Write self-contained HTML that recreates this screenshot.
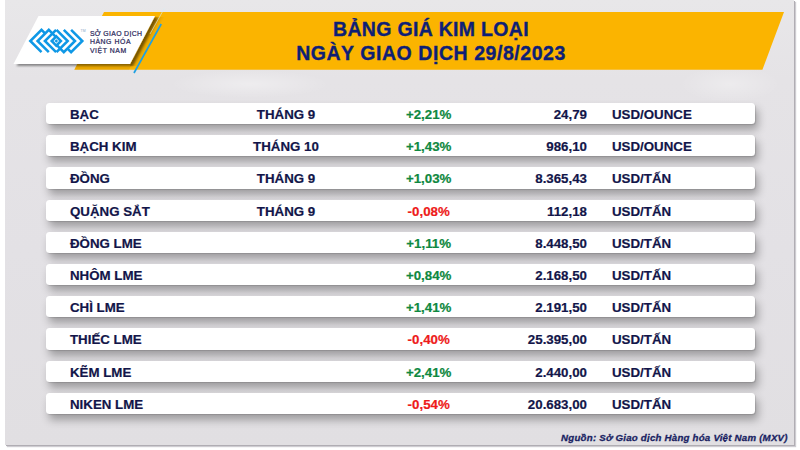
<!DOCTYPE html>
<html><head><meta charset="utf-8">
<style>
*{margin:0;padding:0;box-sizing:border-box}
html,body{width:800px;height:450px;overflow:hidden;background:#fff}
#frame{position:absolute;left:5px;top:0;width:789px;height:444.5px;background:radial-gradient(80px 14px at 245px 84px,rgba(255,255,255,.35),rgba(255,255,255,0)),radial-gradient(50px 18px at 725px 84px,rgba(255,255,255,.3),rgba(255,255,255,0)),linear-gradient(#e8e7e9 0,#e5e3e6 80px,#e3e1e5 250px,#e1dfe2 444px);overflow:hidden;
  box-shadow:1px 1px 0 #b0adb3,2px 2px 1px rgba(60,50,70,.25)}
.title{position:absolute;left:196px;width:460px;text-align:center;color:#0e1f76;
  font:bold 19.5px "Liberation Sans",sans-serif;line-height:24px;letter-spacing:0.3px;-webkit-text-stroke:0.35px #0e1f76}
.row{position:absolute;left:41px;width:709px;height:21.2px;background:#fff;border-radius:3.5px;
  box-shadow:1px 1px 1px rgba(0,0,0,.12),3px 6px 9px rgba(0,0,0,.3);font:bold 13.3px "Liberation Sans",sans-serif;color:#121549;-webkit-text-stroke:0.2px currentColor}
.row span{position:absolute;top:4px;line-height:15px;white-space:nowrap}
.c1{left:24px}
.c2{left:200px;width:80px;text-align:center}
.c3{left:322.7px;width:120px;text-align:center}
.c4{right:168px;text-align:right}
.c5{left:566px}
.g{color:#0e8840}
.r{color:#ee1a1a}
.src{position:absolute;right:6.3px;top:431.6px;font:italic bold 9.7px "Liberation Sans",sans-serif;letter-spacing:0.22px;color:#1a1f62;-webkit-text-stroke:0.3px #1a1f62}
</style></head><body>
<div id="frame">
  <svg id="hdr" width="790" height="90" viewBox="5 0 790 90" style="position:absolute;left:0;top:0">
    <defs>
      <filter id="sh" x="-10%" y="-20%" width="130%" height="160%">
        <feGaussianBlur in="SourceAlpha" stdDeviation="1.3"/>
        <feOffset dx="2.5" dy="1.8" result="b"/>
        <feComponentTransfer><feFuncA type="linear" slope="0.42"/></feComponentTransfer>
        <feMerge><feMergeNode/><feMergeNode in="SourceGraphic"/></feMerge>
      </filter>
      <linearGradient id="sg" gradientUnits="userSpaceOnUse" x1="142.5" y1="40" x2="150.5" y2="44.2">
        <stop offset="0" stop-color="#3a2800" stop-opacity="0.3"/>
        <stop offset="0.5" stop-color="#3a2800" stop-opacity="0.12"/>
        <stop offset="1" stop-color="#3a2800" stop-opacity="0"/>
      </linearGradient>
    </defs>
    <polygon points="104,12 784,12 762.4,69.8 74.3,69.8" fill="#fbb400"/>
    <polygon points="155,17 166,17 141,66 130,66" fill="url(#sg)"/>
    <polygon points="77.3,64 132,64 129,69.8 74.3,69.8" fill="#5a3700" fill-opacity="0.1"/>
    <polygon points="38.5,16 155,16 130,64 13.5,64" fill="#fff" filter="url(#sh)"/>
    <line x1="164.5" y1="8" x2="150" y2="34" stroke="#d6ecf4" stroke-width="0.8" opacity="0.75"/>
    <line x1="161.2" y1="24" x2="134" y2="73" stroke="#1fa0e2" stroke-width="1.7"/>
    <g fill="none" stroke="#0f98e6" stroke-width="2.55" stroke-linejoin="miter">
      <path d="M45.3,33.6 L41.5,29.8 L30.3,41 L41.5,52.2"/>
      <path d="M55.3,36.3 L48.8,29.8 L37.6,41 L48.8,52.2"/>
      <path d="M56.1,52.2 L44.9,41 L56.1,29.8"/>
      <path d="M67.3,48.4 L71.1,52.2 L82.3,41 L71.1,29.8"/>
      <path d="M57.3,45.7 L63.8,52.2 L75,41 L63.8,29.8"/>
      <path d="M56.5,29.8 L67.7,41 L56.5,52.2"/>
      <path d="M56.3,36.4 L60.9,41 L56.3,45.6 L51.7,41 Z"/>
    </g>
    <rect x="55.0" y="39.7" width="2.6" height="2.6" fill="#0f98e6" transform="rotate(45 56.3 41)"/>
    <text x="80.5" y="31.8" font-family="Liberation Sans, sans-serif" font-size="3.5" fill="#8aa8c8">TM</text>
    <g font-family="Liberation Sans, sans-serif" font-size="6.9" fill="#2c2a5c" stroke="#2c2a5c" stroke-width="0.22" letter-spacing="0.55">
      <text x="89.9" y="35.7" letter-spacing="0.33">SỞ GIAO DỊCH</text>
      <text x="89.9" y="44.3">HÀNG HÓA</text>
      <text x="89.9" y="52.7">VIỆT NAM</text>
    </g>
  </svg>
  <div class="title" style="top:17px">BẢNG GIÁ KIM LOẠI</div>
  <div class="title" style="top:41px;letter-spacing:0.55px">NGÀY GIAO DỊCH 29/8/2023</div>

  <div class="row" style="top:103px"><span class="c1">BẠC</span><span class="c2">THÁNG 9</span><span class="c3 g">+2,21%</span><span class="c4">24,79</span><span class="c5">USD/OUNCE</span></div>
  <div class="row" style="top:135.2px"><span class="c1">BẠCH KIM</span><span class="c2">THÁNG 10</span><span class="c3 g">+1,43%</span><span class="c4">986,10</span><span class="c5">USD/OUNCE</span></div>
  <div class="row" style="top:167.4px"><span class="c1">ĐỒNG</span><span class="c2">THÁNG 9</span><span class="c3 g">+1,03%</span><span class="c4">8.365,43</span><span class="c5">USD/TẤN</span></div>
  <div class="row" style="top:199.6px"><span class="c1">QUẶNG SẮT</span><span class="c2">THÁNG 9</span><span class="c3 r">-0,08%</span><span class="c4">112,18</span><span class="c5">USD/TẤN</span></div>
  <div class="row" style="top:231.8px"><span class="c1">ĐỒNG LME</span><span class="c3 g">+1,11%</span><span class="c4">8.448,50</span><span class="c5">USD/TẤN</span></div>
  <div class="row" style="top:264px"><span class="c1">NHÔM LME</span><span class="c3 g">+0,84%</span><span class="c4">2.168,50</span><span class="c5">USD/TẤN</span></div>
  <div class="row" style="top:296.2px"><span class="c1">CHÌ LME</span><span class="c3 g">+1,41%</span><span class="c4">2.191,50</span><span class="c5">USD/TẤN</span></div>
  <div class="row" style="top:328.4px"><span class="c1">THIẾC LME</span><span class="c3 r">-0,40%</span><span class="c4">25.395,00</span><span class="c5">USD/TẤN</span></div>
  <div class="row" style="top:360.6px"><span class="c1">KẼM LME</span><span class="c3 g">+2,41%</span><span class="c4">2.440,00</span><span class="c5">USD/TẤN</span></div>
  <div class="row" style="top:392.8px"><span class="c1">NIKEN LME</span><span class="c3 r">-0,54%</span><span class="c4">20.683,00</span><span class="c5">USD/TẤN</span></div>

  <div class="src">Nguồn: Sở Giao dịch Hàng hóa Việt Nam (MXV)</div>
</div>
</body></html>
